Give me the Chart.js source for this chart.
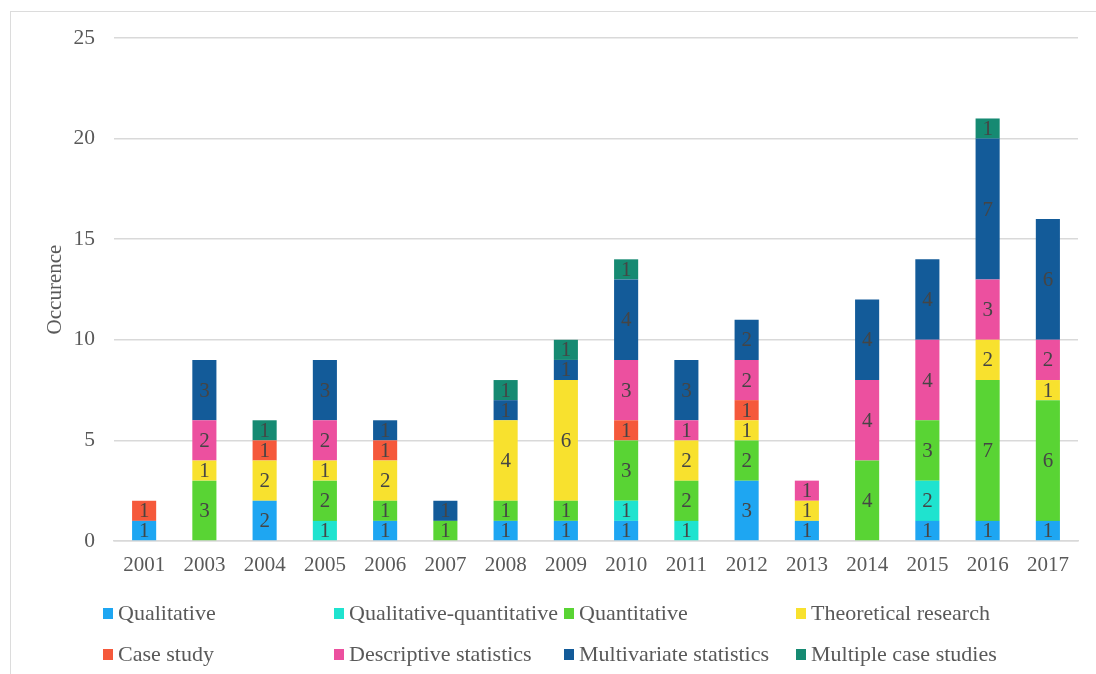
<!DOCTYPE html>
<html>
<head>
<meta charset="utf-8">
<script src="https://cdn.jsdelivr.net/npm/chart.js@4.4.0/dist/chart.umd.min.js"></script>
<style>
  html, body { margin: 0; padding: 0; background: #fff; }
  #wrap { position: relative; width: 1096px; height: 674px; overflow: hidden; }
  #frame { position: absolute; left: 10px; top: 11px; right: -5px; bottom: -5px;
           border-left: 1.5px solid #dcdcdc; border-top: 1.5px solid #dcdcdc; }
  #chartLegend { position: absolute; left: 0; top: 0; width: 1096px; height: 674px; pointer-events: none; }
  .legend-item { position: absolute; display: flex; align-items: center; height: 26px;
                 font-family: "Liberation Serif", "Times New Roman", serif; font-size: 22px;
                 color: #595959; white-space: nowrap; }
  .legend-color { width: 10px; height: 11px; margin-right: 5px; }
</style>
</head>
<body>
<div id="wrap">
  <div id="frame"></div>
  <canvas id="occChart" width="1096" height="674"></canvas>
  <div id="chartLegend"></div>
</div>
<script>
// Tahun (kategori sumbu x)
const years = ['2001', '2003', '2004', '2005', '2006', '2007', '2008', '2009',
               '2010', '2011', '2012', '2013', '2014', '2015', '2016', '2017'];

// Nilai tiap seri, urutan sama dengan years
const qualitative      = [1, 0, 2, 0, 1, 0, 1, 1, 1, 0, 3, 1, 0, 1, 1, 1];
const qualQuant        = [0, 0, 0, 1, 0, 0, 0, 0, 1, 1, 0, 0, 0, 2, 0, 0];
const quantitative     = [0, 3, 0, 2, 1, 1, 1, 1, 3, 2, 2, 0, 4, 3, 7, 6];
const theoretical      = [0, 1, 2, 1, 2, 0, 4, 6, 0, 2, 1, 1, 0, 0, 2, 1];
const caseStudy        = [1, 0, 1, 0, 1, 0, 0, 0, 1, 0, 1, 0, 0, 0, 0, 0];
const descriptive      = [0, 2, 0, 2, 0, 0, 0, 0, 3, 1, 2, 1, 4, 4, 3, 2];
const multivariate     = [0, 3, 0, 3, 1, 1, 1, 1, 4, 3, 2, 0, 4, 4, 7, 6];
const multipleCases    = [0, 0, 1, 0, 0, 0, 1, 1, 1, 0, 0, 0, 0, 0, 1, 0];

const seriesNames = ['Qualitative', 'Qualitative-quantitative', 'Quantitative', 'Theoretical research',
                     'Case study', 'Descriptive statistics', 'Multivariate statistics', 'Multiple case studies'];
const seriesData = [qualitative, qualQuant, quantitative, theoretical,
                    caseStudy, descriptive, multivariate, multipleCases];

// Warna tiap seri
const seriesColors = ['#1ea6f2', '#1fe3cf', '#59d434', '#f8e12e',
                      '#f5593b', '#ec509f', '#135b99', '#168a72'];

const yTicks = [0, 5, 10, 15, 20, 25];

const FONT = '"Liberation Serif", "Times New Roman", serif';
const TEXT = '#595959';

// Plugin label angka di tengah tiap segmen
const segmentLabels = {
  id: 'segmentLabels',
  afterDatasetsDraw(chart) {
    const ctx = chart.ctx;
    ctx.save();
    ctx.font = '21px ' + FONT;
    ctx.fillStyle = '#454545';
    ctx.textAlign = 'center';
    ctx.textBaseline = 'middle';
    chart.data.datasets.forEach((ds, i) => {
      const meta = chart.getDatasetMeta(i);
      meta.data.forEach((bar, j) => {
        const v = ds.data[j];
        if (!v) return;
        ctx.fillText(String(v), bar.x, (bar.y + bar.base) / 2 + 1);
      });
    });
    ctx.restore();
  }
};

function buildLegend() {
  const cols = [103, 334, 564, 796];
  const rows = [600, 641];
  let html = '';
  seriesNames.forEach((name, i) => {
    const x = cols[i % 4];
    const y = rows[Math.floor(i / 4)];
    html += `
      <div class="legend-item" style="left:${x}px; top:${y}px">
        <div class="legend-color" style="background-color:${seriesColors[i]}"></div>
        <div class="legend-text">${name}</div>
      </div>`;
  });
  document.getElementById('chartLegend').innerHTML = html;
}

function createChart() {
  const ctx = document.getElementById('occChart').getContext('2d');
  new Chart(ctx, {
    type: 'bar',
    data: {
      labels: years,
      datasets: seriesNames.map((name, i) => ({
        label: name,
        data: seriesData[i],
        backgroundColor: seriesColors[i],
        borderWidth: 0,
        categoryPercentage: 1.0,
        barPercentage: 0.4
      }))
    },
    options: {
      responsive: false,
      animation: false,
      layout: { padding: { left: 36, right: 18, top: 38, bottom: 93 } },
      plugins: {
        legend: { display: false },
        tooltip: { enabled: false }
      },
      scales: {
        x: {
          stacked: true,
          grid: { display: false, drawTicks: false },
          border: { display: true, color: '#d9d9d9', width: 1.5 },
          ticks: {
            color: TEXT, font: { family: FONT, size: 21 },
            padding: 12, maxRotation: 0, autoSkip: false
          },
          afterFit(scale) { scale.height = 40; }
        },
        y: {
          stacked: true,
          min: 0, max: 25,
          afterBuildTicks(scale) { scale.ticks = yTicks.map(v => ({ value: v })); },
          grid: { color: '#d9d9d9', lineWidth: 1.5, drawTicks: false },
          border: { display: false },
          ticks: { color: TEXT, font: { family: FONT, size: 21.5 }, padding: 19 },
          title: {
            display: true, text: 'Occurence', color: TEXT,
            font: { family: FONT, size: 21 }, padding: { top: 7, bottom: 0 }
          },
          afterFit(scale) { scale.width = 78; }
        }
      }
    },
    plugins: [segmentLabels]
  });
}

document.addEventListener('DOMContentLoaded', function() {
  buildLegend();
  createChart();
});
</script>
</body>
</html>
